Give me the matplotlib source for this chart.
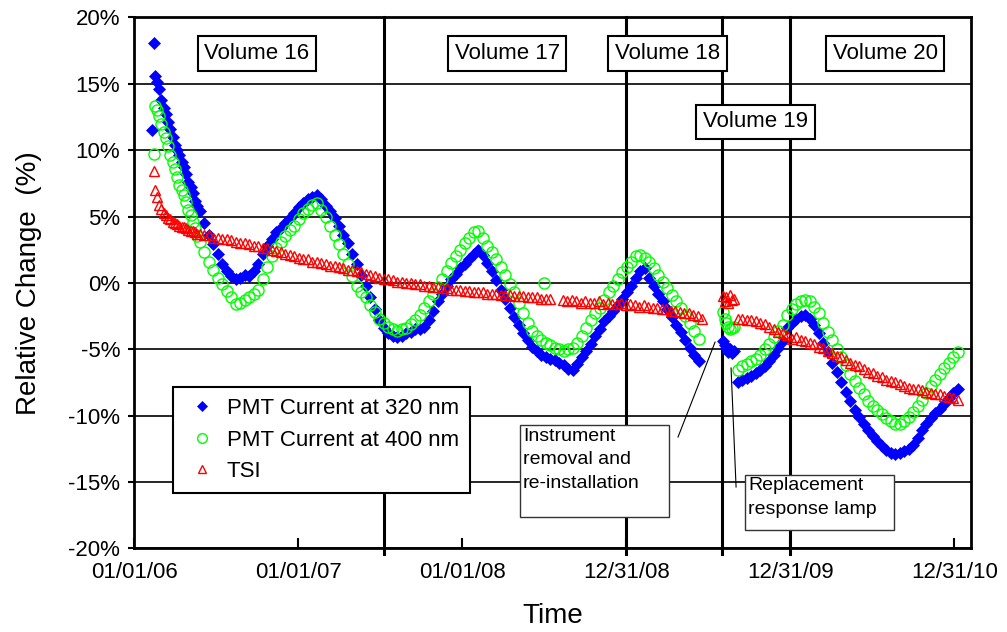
import numpy as np
import pandas as pd
import matplotlib
matplotlib.use('Agg')
import matplotlib.pyplot as plt
import matplotlib.dates as mdates
from matplotlib.patches import Rectangle
from matplotlib.lines import Line2D

plt.rcParams['font.family'] = ['Liberation Sans', 'DejaVu Sans']

# ---- data (relative change in %) ----
# start of the record: 5-day readings from 2006-02-16
pmt320_early = [15.6, 15.1, 14.6, 13.8, 13.2, 12.7, 12.1, 11.6, 11.0, 10.4,
                10.0, 9.6, 9.1, 8.7, 8.2, 7.6, 7.2, 6.8, 6.2, 5.8]
pmt400_early = [13.3, 13.0, 12.6, 12.0, 11.4, 10.9, 10.3, 9.6, 9.1, 8.6,
                8.0, 7.4, 7.0, 6.6, 6.1, 5.5, 5.1, 4.6, 4.1, 3.5]
tsi_early = [7.0, 6.5, 5.9, 5.6, 5.3, 5.1, 4.9, 4.8, 4.6, 4.5,
             4.4, 4.3, 4.2, 4.2, 4.1, 4.0, 3.9, 3.9, 3.8, 3.7]
# volumes 16-18: 10-day readings from 2006-05-27
pmt320_main = [5.4, 4.5, 3.6, 2.9, 2.2, 1.4, 0.9, 0.5, 0.3, 0.4,
               0.6, 0.5, 0.9, 1.4, 2.2, 2.8, 3.3, 3.8, 4.1, 4.5,
               4.9, 5.3, 5.7, 6.0, 6.3, 6.5, 6.6, 6.3, 5.8, 5.4,
               4.9, 4.3, 3.6, 3.0, 2.2, 1.4, 0.6, -0.2, -1.1, -2.0,
               -2.8, -3.4, -3.8, -4.0, -4.1, -4.0, -3.8, -3.7, -3.5, -3.5,
               -3.3, -2.8, -2.1, -1.4, -0.8, -0.2, 0.3, 0.7, 1.1, 1.4,
               1.8, 2.2, 2.5, 2.1, 1.5, 0.9, 0.2, -0.5, -1.2, -1.9,
               -2.6, -3.2, -3.8, -4.3, -4.8, -5.1, -5.4, -5.6, -5.7, -5.8,
               -6.0, -6.2, -6.5, -6.6, -6.1, -5.6, -5.1, -4.6, -4.0, -3.5,
               -2.9, -2.5, -2.1, -1.7, -1.2, -0.7, -0.2, 0.4, 0.9, 1.1,
               0.4, -0.2, -0.8, -1.4, -2.0, -2.6, -3.2, -3.7, -4.3, -4.9,
               -5.4, -5.9]
pmt400_main = [3.1, 2.3, 1.6, 1.0, 0.4, -0.1, -0.6, -1.1, -1.6, -1.5,
               -1.3, -1.1, -0.8, -0.5, 0.3, 1.2, 2.0, 2.6, 3.1, 3.5,
               4.0, 4.3, 4.8, 5.3, 5.6, 5.9, 6.0, 5.5, 5.0, 4.3,
               3.6, 2.9, 2.2, 1.4, 0.5, -0.2, -0.7, -1.1, -1.7, -2.2,
               -2.7, -3.0, -3.3, -3.5, -3.6, -3.5, -3.4, -3.1, -2.8, -2.4,
               -1.9, -1.4, -0.8, -0.3, 0.3, 0.9, 1.5, 2.0, 2.5, 3.0,
               3.4, 3.8, 3.9, 3.4, 2.8, 2.3, 1.8, 1.2, 0.6, -0.1,
               -0.7, -1.5, -2.3, -3.0, -3.6, -4.0, -4.3, -4.5, -4.7, -4.9,
               -5.0, -5.1, -5.0, -4.9, -4.5, -4.0, -3.4, -2.8, -2.3, -1.9,
               -1.3, -0.7, -0.2, 0.3, 0.8, 1.2, 1.6, 2.0, 2.1, 1.9,
               1.6, 1.1, 0.6, 0.1, -0.4, -0.9, -1.4, -1.9, -2.5, -3.0,
               -3.6, -4.2]
# TSI: 10-day readings from 2006-05-27, then from 2008-08-12
tsi_a = [3.7, 3.6, 3.6, 3.4, 3.4, 3.3, 3.3, 3.2, 3.1, 3.0,
         3.0, 2.9, 2.8, 2.8, 2.6, 2.6, 2.5, 2.4, 2.3, 2.2,
         2.1, 2.0, 1.9, 1.8, 1.8, 1.6, 1.6, 1.5, 1.4, 1.3,
         1.3, 1.2, 1.1, 1.0, 1.0, 0.9, 0.8, 0.7, 0.6, 0.5,
         0.4, 0.3, 0.3, 0.2, 0.1, 0.1, 0.0, 0.0, -0.1, -0.1,
         -0.2, -0.2, -0.3, -0.3, -0.4, -0.4, -0.5, -0.5, -0.5, -0.6,
         -0.6, -0.7, -0.7, -0.7, -0.8, -0.8, -0.8, -0.9, -0.9, -0.9,
         -1.0, -1.0, -1.0, -1.1, -1.1, -1.1, -1.2, -1.2, -1.2]
tsi_b = [-1.3, -1.4, -1.3, -1.4, -1.5, -1.4, -1.5, -1.5, -1.4, -1.6,
         -1.5, -1.6, -1.6, -1.5, -1.7, -1.6, -1.7, -1.8, -1.7, -1.8,
         -1.9, -1.9, -2.0, -2.0, -2.1, -2.1, -2.2, -2.3, -2.3, -2.4,
         -2.5, -2.7]
# volume 19, before the lamp change: 4-day readings from 2009-08-03
pmt320_v19a = [-4.4, -4.7, -4.9, -5.2, -5.0, -5.3, -5.1]
pmt400_v19a = [-2.2, -2.7, -3.0, -3.3, -3.5, -3.4, -3.3]
tsi_v19a = [-1.0, -1.4, -1.1, -1.5, -0.9, -1.3, -1.2]
# volume 19, after the lamp change: 10-day readings from 2009-09-05
pmt320_v19b = [-7.5, -7.3, -7.2, -7.0, -6.8, -6.6, -6.3, -5.9, -5.4, -4.9, -4.4]
pmt400_v19b = [-6.6, -6.3, -6.1, -5.9, -5.7, -5.4, -5.0, -4.6, -4.1, -3.6, -3.2]
tsi_v19b = [-2.7, -2.7, -2.8, -2.8, -2.9, -3.0, -3.1, -3.3, -3.5, -3.7, -3.8]
# volume 20: 10-day readings from 2009-12-24
pmt320_v20 = [-3.4, -3.0, -2.7, -2.5, -2.4, -2.7, -3.2, -3.8, -4.5, -5.2,
              -6.0, -6.7, -7.5, -8.2, -8.9, -9.6, -10.1, -10.6, -11.1, -11.5,
              -11.9, -12.3, -12.6, -12.8, -12.9, -12.8, -12.7, -12.5, -12.2, -11.7,
              -11.1, -10.6, -10.2, -9.8, -9.5, -9.1, -8.7, -8.3, -8.0]
pmt400_v20 = [-2.4, -2.0, -1.6, -1.4, -1.3, -1.4, -1.8, -2.3, -3.0, -3.7,
              -4.3, -5.0, -5.6, -6.2, -6.9, -7.4, -7.9, -8.4, -8.9, -9.3,
              -9.6, -9.9, -10.2, -10.4, -10.6, -10.6, -10.4, -10.1, -9.7, -9.3,
              -8.8, -8.3, -7.8, -7.3, -6.9, -6.4, -6.0, -5.6, -5.2]
tsi_v20 = [-3.9, -4.2, -4.1, -4.3, -4.4, -4.5, -4.6, -4.8, -4.9, -5.1,
           -5.3, -5.5, -5.6, -5.8, -6.0, -6.2, -6.3, -6.5, -6.7, -6.8,
           -7.0, -7.1, -7.3, -7.4, -7.5, -7.6, -7.8, -7.9, -8.0, -8.0,
           -8.1, -8.2, -8.3, -8.4, -8.4, -8.5, -8.6, -8.7, -8.8]
# odd single readings
pmt320_odd_dates = ['2006-02-09', '2006-02-15']
pmt320_odd = [11.5, 18.1]
pmt400_odd_dates = ['2006-02-14', '2008-07-01']
pmt400_odd = [9.7, 0.0]
tsi_odd_dates = ['2006-02-15']
tsi_odd = [8.4]

volume_breaks = ['2007-07-12', '2008-12-31', '2009-07-31', '2009-12-31']
tick_dates = ['2006-01-01', '2007-01-01', '2008-01-01', '2008-12-31',
              '2009-12-31', '2010-12-31']


def dates(start, step, n):
    return pd.date_range(start, periods=n, freq=f'{step}D').to_pydatetime()


def odd(d):
    return pd.to_datetime(d).to_pydatetime()


series = {
    'PMT Current at 320 nm': [
        (dates('2006-02-16', 5, len(pmt320_early)), pmt320_early),
        (dates('2006-05-27', 10, len(pmt320_main)), pmt320_main),
        (dates('2009-08-03', 4, len(pmt320_v19a)), pmt320_v19a),
        (dates('2009-09-05', 10, len(pmt320_v19b)), pmt320_v19b),
        (dates('2009-12-24', 10, len(pmt320_v20)), pmt320_v20),
        (odd(pmt320_odd_dates), pmt320_odd)],
    'PMT Current at 400 nm': [
        (dates('2006-02-16', 5, len(pmt400_early)), pmt400_early),
        (dates('2006-05-27', 10, len(pmt400_main)), pmt400_main),
        (dates('2009-08-03', 4, len(pmt400_v19a)), pmt400_v19a),
        (dates('2009-09-05', 10, len(pmt400_v19b)), pmt400_v19b),
        (dates('2009-12-24', 10, len(pmt400_v20)), pmt400_v20),
        (odd(pmt400_odd_dates), pmt400_odd)],
    'TSI': [
        (dates('2006-02-16', 5, len(tsi_early)), tsi_early),
        (dates('2006-05-27', 10, len(tsi_a)), tsi_a),
        (dates('2008-08-12', 10, len(tsi_b)), tsi_b),
        (dates('2009-08-03', 4, len(tsi_v19a)), tsi_v19a),
        (dates('2009-09-05', 10, len(tsi_v19b)), tsi_v19b),
        (dates('2009-12-24', 10, len(tsi_v20)), tsi_v20),
        (odd(tsi_odd_dates), tsi_odd)],
}
styles = {
    'PMT Current at 320 nm': dict(marker='D', ms=6, mfc='#0000FF', mec='#0000FF', mew=0.5),
    'PMT Current at 400 nm': dict(marker='o', ms=8, mfc='none', mec='#00FF00', mew=1.0),
    'TSI': dict(marker='^', ms=7.5, mfc='none', mec='#FF0000', mew=1.0),
}
legend_styles = {
    'PMT Current at 320 nm': dict(marker='D', ms=5, mfc='#0000FF', mec='#0000FF', mew=0.5),
    'PMT Current at 400 nm': dict(marker='o', ms=7, mfc='none', mec='#00FF00', mew=1.0),
    'TSI': dict(marker='^', ms=6, mfc='none', mec='#FF0000', mew=1.0),
}

fig = plt.figure(figsize=(10.07, 6.32), dpi=100)
ax = fig.add_axes([0.1331, 0.1324, 0.8307, 0.840])

handles = []
for name, parts in series.items():
    for x, y in parts:
        ax.plot(x, y, ls='none', **styles[name])
    handles.append(Line2D([], [], ls='none', label=name, **legend_styles[name]))

for d in volume_breaks:
    ax.plot([pd.Timestamp(d)] * 2, [-20.4, 20], color='black', lw=2.2,
            clip_on=False, zorder=1)

ax.set_ylim(-20, 20)
ax.set_xlim(pd.Timestamp('2006-01-01'), pd.Timestamp('2011-02-05'))
ax.set_yticks(np.arange(-20, 21, 5))
ax.set_yticklabels([f'{v}%' for v in range(-20, 21, 5)])
ax.set_xticks(pd.to_datetime(tick_dates).to_pydatetime())
ax.xaxis.set_major_formatter(mdates.DateFormatter('%m/%d/%y'))
ax.tick_params(axis='y', direction='out', length=4, width=1.5, labelsize=16, pad=6)
ax.tick_params(axis='x', direction='in', length=7, width=1.5, labelsize=16, pad=10)
ax.yaxis.grid(True, color='black', lw=1.2, zorder=0)
ax.set_axisbelow(True)
for s in ax.spines.values():
    s.set_linewidth(2)

ax.set_xlabel('Time', fontsize=20, labelpad=14)
ax.set_ylabel('Relative Change  (%)', fontsize=20, labelpad=19)

# volume labels
vol_boxes = dict(boxstyle='square,pad=0.3', facecolor='white', edgecolor='black', lw=1.5)
for label, x, y in [('Volume 16', 0.147, 0.932), ('Volume 17', 0.446, 0.932),
                    ('Volume 18', 0.638, 0.932), ('Volume 19', 0.743, 0.8035),
                    ('Volume 20', 0.898, 0.932)]:
    ax.text(x, y, label, transform=ax.transAxes, ha='center', va='center',
            fontsize=16, bbox=vol_boxes, zorder=5)

# annotations
ax.add_patch(Rectangle((0.4614, 0.0595), 0.1786, 0.1727, transform=ax.transAxes,
                       facecolor='white', edgecolor='#333333', lw=1, zorder=5))
ax.text(0.465, 0.2275, 'Instrument\nremoval and\nre-installation', transform=ax.transAxes,
        ha='left', va='top', fontsize=14, linespacing=1.5, zorder=6)
ax.plot([0.6503, 0.6946], [0.2096, 0.3885], transform=ax.transAxes, color='black', lw=0.8, zorder=6)

ax.add_patch(Rectangle((0.7304, 0.0345), 0.1785, 0.1035, transform=ax.transAxes,
                       facecolor='white', edgecolor='#333333', lw=1, zorder=5))
ax.text(0.7339, 0.1335, 'Replacement\nresponse lamp', transform=ax.transAxes,
        ha='left', va='top', fontsize=14, linespacing=1.5, zorder=6)
ax.plot([0.7197, 0.7137], [0.1155, 0.3396], transform=ax.transAxes, color='black', lw=0.8, zorder=6)

leg = ax.legend(handles=handles, loc='upper left', bbox_to_anchor=(0.047, 0.3044),
                fontsize=16, frameon=True, fancybox=False, framealpha=1,
                borderpad=0.5, labelspacing=0.48, handlelength=1.6,
                handletextpad=0.3, borderaxespad=0)
leg.get_frame().set_edgecolor('black')
leg.get_frame().set_linewidth(1.5)
leg.set_zorder(7)

fig.savefig('out.png', dpi=100, facecolor='white')
